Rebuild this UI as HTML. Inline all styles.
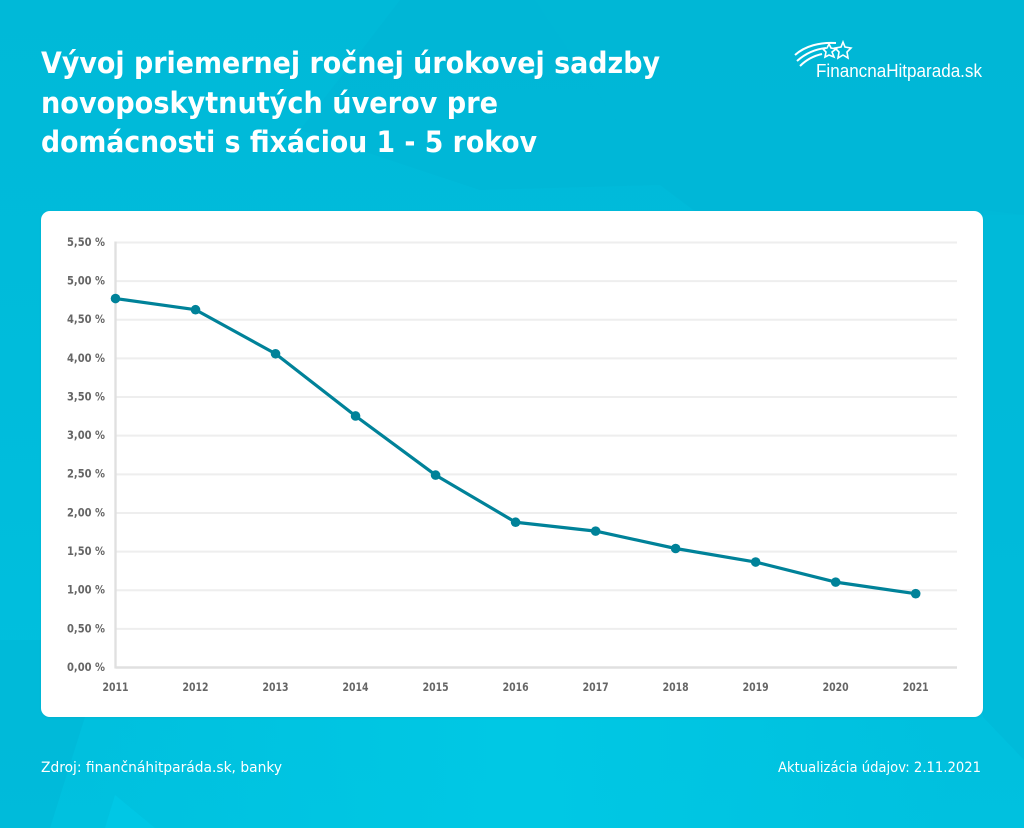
<!DOCTYPE html>
<html lang="sk">
<head>
<meta charset="utf-8">
<title>Vývoj priemernej ročnej úrokovej sadzby</title>
<style>
html,body{margin:0;padding:0;width:1024px;height:828px;overflow:hidden;background:#00bcdb}
svg{display:block}
text{font-family:"DejaVu Sans","Liberation Sans",sans-serif}
</style>
</head>
<body>
<svg id="page" xmlns="http://www.w3.org/2000/svg" width="1024" height="828" viewBox="0 0 1024 828">
  <defs>
    <linearGradient id="bgGrad" x1="0" y1="0" x2="0" y2="1">
      <stop offset="0" stop-color="#00b9d8"/>
      <stop offset="0.6" stop-color="#00bddc"/>
      <stop offset="1" stop-color="#00c1df"/>
    </linearGradient>
    <linearGradient id="footGlow" x1="0" y1="0" x2="1" y2="0">
      <stop offset="0" stop-color="#00c9e5" stop-opacity="0"/>
      <stop offset="0.5" stop-color="#00c9e5" stop-opacity="0.9"/>
      <stop offset="1" stop-color="#00c9e5" stop-opacity="0"/>
    </linearGradient>
    <filter id="cardShadow" x="-5%" y="-5%" width="110%" height="110%">
      <feDropShadow dx="0" dy="1" stdDeviation="1" flood-color="#007f99" flood-opacity="0.15"/>
    </filter>
  </defs>
  <g>
    <rect width="1024" height="828" fill="url(#bgGrad)"/>
    <polygon points="400,0 535,0 660,185 480,190 300,130" fill="#00b5d5" opacity="0.55"/>
    <polygon points="535,0 1024,0 1024,215 700,215 660,185" fill="#00b7d6" opacity="0.9"/>
    <polygon points="983,210 1024,215 1024,760 983,717" fill="#00b9d8" opacity="0.7"/>
    <polygon points="85,717 41,640 0,640 0,828 50,828" fill="#00b8d7" opacity="0.7"/>
    <polygon points="115,795 105,828 155,828" fill="#00c8e5" opacity="0.9"/>
    <rect x="90" y="700" width="860" height="128" fill="url(#footGlow)"/>
  </g>

  <g fill="#ffffff" font-weight="700" font-size="29.5">
    <text x="41" y="73" textLength="619" lengthAdjust="spacingAndGlyphs">Vývoj priemernej ročnej úrokovej sadzby</text>
    <text x="41" y="113" textLength="457" lengthAdjust="spacingAndGlyphs">novoposkytnutých úverov pre</text>
    <text x="41" y="152" textLength="496" lengthAdjust="spacingAndGlyphs">domácnosti s fixáciou 1 - 5 rokov</text>
  </g>

  <g fill="none" stroke="#ffffff">
    <path d="M795 55 C805 46 820 42 836 43" stroke-width="2"/>
    <path d="M797 61 C806 53 816 49 826 48" stroke-width="2"/>
    <path d="M800 66 C806 60 813 56 822 54" stroke-width="2"/>
    <polygon points="829,44 831,48 836,49 832,52 834,57 829,55 825,57 826,52 823,49 827,48" stroke-width="1.6"/>
    <polygon points="843,42 845,47 851,48 847,52 848,58 843,55 838,58 839,52 835,48 841,47" stroke-width="1.6"/>
    <text x="816" y="77" font-size="18.5" fill="#ffffff" stroke="none" textLength="166" lengthAdjust="spacingAndGlyphs" style="font-family:'Liberation Sans',sans-serif">FinancnaHitparada.sk</text>
  </g>

  <rect x="41" y="211" width="942" height="506" rx="9" ry="9" fill="#ffffff" filter="url(#cardShadow)"/>
  <g id="chart"></g>

  <text x="41" y="772" font-size="14.5" fill="#ffffff" textLength="241" lengthAdjust="spacingAndGlyphs">Zdroj: finančnáhitparáda.sk, banky</text>
  <text x="981" y="772" font-size="14.5" fill="#ffffff" text-anchor="end" textLength="203" lengthAdjust="spacingAndGlyphs">Aktualizácia údajov: 2.11.2021</text>
</svg>

<script>
const categories = ['2011','2012','2013','2014','2015','2016','2017','2018','2019','2020','2021'];
const rateValues = [4.775,4.63,4.06,3.255,2.49,1.88,1.765,1.54,1.365,1.105,0.955];
const yTickValues = [0,0.5,1,1.5,2,2.5,3,3.5,4,4.5,5,5.5];
const yTickLabels = ['0,00 %','0,50 %','1,00 %','1,50 %','2,00 %','2,50 %','3,00 %','3,50 %','4,00 %','4,50 %','5,00 %','5,50 %'];

const NS = 'http://www.w3.org/2000/svg';
const chart = document.getElementById('chart');
const plotLeft = 115.5, plotRight = 957, firstX = 115.5, lastX = 915.7;
const plotBottom = 667.5, plotTop = 242.5, yMax = 5.5;
function xScale(i){ return firstX + (lastX - firstX) * i / (categories.length - 1); }
function yScale(v){ return plotBottom - (plotBottom - plotTop) * v / yMax; }
function make(tag, attrs, text){
  const el = document.createElementNS(NS, tag);
  for (const k in attrs) el.setAttribute(k, attrs[k]);
  if (text !== undefined) el.textContent = text;
  chart.appendChild(el);
  return el;
}

yTickValues.forEach(function(v, i){
  const y = yScale(v);
  if (v !== 0) {
    const grid = make('line', {x1: plotLeft, x2: plotRight, y1: y, y2: y, stroke: '#eeeeee', 'stroke-width': 2});
    
    
  }
  const lab = make('text', {x: 105, y: y + 3.4, 'text-anchor': 'end', 'font-size': 11.2, 'font-weight': 700, fill: '#666666', textLength: 38, lengthAdjust: 'spacingAndGlyphs'}, yTickLabels[i]);
  
  
});

const yAxis = make('line', {x1: plotLeft, x2: plotLeft, y1: plotTop - 1, y2: plotBottom + 1, stroke: '#e0e0e0', 'stroke-width': 2.4});


const xAxis = make('line', {x1: plotLeft, x2: plotRight, y1: plotBottom, y2: plotBottom, stroke: '#e0e0e0', 'stroke-width': 2.4});



categories.forEach(function(c, i){
  const lab = make('text', {x: xScale(i), y: 691, 'text-anchor': 'middle', 'font-size': 11.2, 'font-weight': 700, fill: '#666666', textLength: 26, lengthAdjust: 'spacingAndGlyphs'}, c);
  
  
});

const pts = rateValues.map(function(v, i){ return xScale(i) + ',' + yScale(v); }).join(' ');
const line = make('polyline', {points: pts, fill: 'none', stroke: '#008299', 'stroke-width': 3.2, 'stroke-linejoin': 'round'});



rateValues.forEach(function(v, i){
  const p = make('circle', {cx: xScale(i), cy: yScale(v), r: 4.8, fill: '#008299'});
  
  
});
</script>
</body>
</html>
